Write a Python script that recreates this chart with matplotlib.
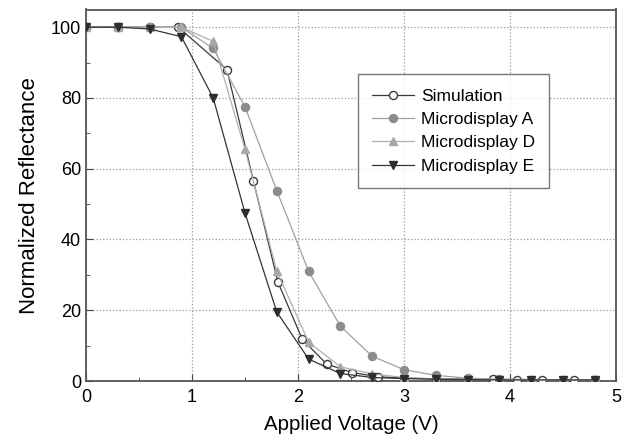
import numpy as np
import matplotlib.pyplot as plt
from matplotlib.ticker import MultipleLocator

plt.rcParams['font.family'] = ['Liberation Sans', 'DejaVu Sans']

# data
sim_x = [0, 0.3, 0.6, 0.87, 1.33, 1.58, 1.81, 2.04, 2.27, 2.51, 2.75, 3.0, 3.3, 3.6, 3.84, 4.07, 4.3, 4.6, 4.8]
sim_y = [100, 100, 100, 100, 88, 56.5, 28, 11.8, 4.8, 2.4, 1.2, 0.8, 0.6, 0.5, 0.5, 0.4, 0.4, 0.3, 0.3]

volt = [0, 0.3, 0.6, 0.9, 1.2, 1.5, 1.8, 2.1, 2.4, 2.7, 3.0, 3.3, 3.6, 3.9, 4.2, 4.5, 4.8]
disp_a = [100, 100, 100, 100, 94, 77.5, 53.8, 31, 15.5, 7, 3.2, 1.6, 0.8, 0.5, 0.4, 0.3, 0.3]
disp_d = [100, 100, 100, 100, 96, 65.5, 31, 11, 4, 2, 1, 0.6, 0.5, 0.4, 0.3, 0.3, 0.3]
disp_e = [100, 100, 99.5, 97.3, 80, 47.5, 19.5, 6.2, 2.1, 1.0, 0.7, 0.5, 0.4, 0.3, 0.3, 0.3, 0.3]

fig = plt.figure(figsize=(6.28, 4.43), dpi=100)
ax = fig.add_axes([86/628, 1 - 381/443, 530/628, 371.5/443])

ax.plot(sim_x, sim_y, color='#3a3a3a', lw=0.9, marker='o', ms=5.8,
        mfc='white', mec='#3a3a3a', mew=1.0, label='Simulation', zorder=3)
ax.plot(volt, disp_a, color='#a0a0a0', lw=0.9, marker='o', ms=5.8,
        mfc='#8c8c8c', mec='#8c8c8c', label='Microdisplay A', zorder=4)
ax.plot(volt, disp_d, color='#b0b0b0', lw=0.9, marker='^', ms=6,
        mfc='#a8a8a8', mec='#a8a8a8', label='Microdisplay D', zorder=5)
ax.plot(volt, disp_e, color='#333333', lw=0.9, marker='v', ms=6,
        mfc='#2e2e2e', mec='#2e2e2e', label='Microdisplay E', zorder=6)

ax.set_xlim(0, 5)
ax.set_ylim(0, 105)
ax.xaxis.set_major_locator(MultipleLocator(1))
ax.xaxis.set_minor_locator(MultipleLocator(0.5))
ax.yaxis.set_major_locator(MultipleLocator(20))
ax.yaxis.set_minor_locator(MultipleLocator(10))
ax.tick_params(which='both', direction='in', labelsize=13, color='#444444')
ax.tick_params(which='major', length=5)
ax.tick_params(which='minor', length=3)
ax.tick_params(axis='x', pad=6)
ax.grid(True, which='major', ls=':', color='#9a9a9a', lw=0.9)
for s in ax.spines.values():
    s.set_color('#555555')
    s.set_linewidth(1.3)

ax.set_xlabel('Applied Voltage (V)', fontsize=14.7, labelpad=6)
ax.set_ylabel('Normalized Reflectance', fontsize=16, labelpad=8)

leg = ax.legend(loc='upper left', bbox_to_anchor=(0.513, 0.826), fontsize=12.5,
                frameon=True, fancybox=False, edgecolor='#555555',
                handlelength=2.4, labelspacing=0.47, borderpad=0.83,
                handletextpad=0.4, borderaxespad=0)
leg.get_frame().set_linewidth(1.0)

fig.savefig('out.png', dpi=100)
